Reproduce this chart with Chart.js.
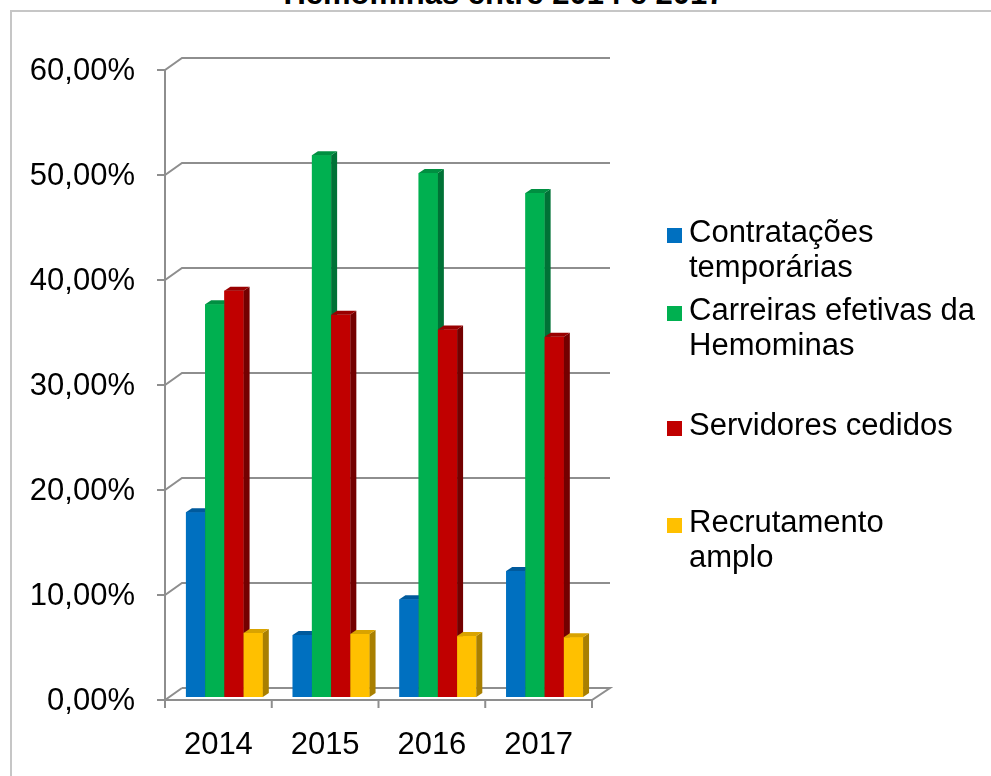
<!DOCTYPE html>
<html>
<head>
<meta charset="utf-8">
<script src="https://cdn.jsdelivr.net/npm/chart.js@4.4.1/dist/chart.umd.min.js"></script>
<style>
  html, body { margin: 0; padding: 0; background: #fff; overflow: hidden; }
  #wrap { position: relative; width: 991px; height: 776px; overflow: hidden; font-family: "Liberation Sans", Arial, sans-serif; }
  #frame { position: absolute; left: 10px; top: 10px; width: 1100px; height: 900px; border: 2px solid #c6c6c6; }
  #title { position: absolute; left: 0; top: -24px; width: 1008px; text-align: center; font-weight: bold; font-size: 31px; line-height: 35px; white-space: nowrap; color: #000; }
  canvas { position: absolute; left: 0; top: 0; }
  .leg { position: absolute; left: 689px; font-size: 31px; line-height: 35px; color: #000; white-space: nowrap; }
  .mk { position: absolute; left: 667px; width: 15px; height: 15px; }
</style>
</head>
<body>
<div id="wrap">
  <div id="frame"></div>
  <div id="title">Hemominas entre 2014 e 2017</div>
  <canvas id="chart" width="991" height="776"></canvas>
  <div id="legend"></div>
</div>
<script>
// dados (%)
var anos = ['2014', '2015', '2016', '2017'];
var contratacoes = [17.6, 5.9, 9.3, 12.0];
var carreiras = [37.4, 51.6, 49.9, 48.0];
var cedidos = [38.7, 36.4, 35.0, 34.3];
var recrutamento = [6.1, 6.0, 5.8, 5.7];
var yTicks = ['0,00%', '10,00%', '20,00%', '30,00%', '40,00%', '50,00%', '60,00%'];

var series = [
  { label: ['Contratações', 'temporárias'], data: contratacoes, color: '#0070C0', side: '#00487c', top: '#005a9c', legTop: 214 },
  { label: ['Carreiras efetivas da', 'Hemominas'], data: carreiras, color: '#00B050', side: '#007236', top: '#008f41', legTop: 292 },
  { label: ['Servidores cedidos'], data: cedidos, color: '#C00000', side: '#740000', top: '#990000', legTop: 407 },
  { label: ['Recrutamento', 'amplo'], data: recrutamento, color: '#FFC000', side: '#a97f00', top: '#d9a300', legTop: 504 }
];

// legenda em HTML (texto em duas linhas)
var legend = document.getElementById('legend');
series.forEach(function(s) {
  var mk = document.createElement('div');
  mk.className = 'mk';
  mk.style.top = (s.legTop + 14) + 'px';
  mk.style.background = s.color;
  legend.appendChild(mk);
  var t = document.createElement('div');
  t.className = 'leg';
  t.style.top = s.legTop + 'px';
  t.innerHTML = s.label.join('<br>');
  legend.appendChild(t);
});

var DX = 6, DY = -4;          // profundidade das barras
var FX = -6, FY = 3;          // plano frontal
var BX = 11, BY = -9;         // parede do fundo

var caixa3d = {
  id: 'caixa3d',
  beforeDatasetsDraw: function(chart) {
    var ctx = chart.ctx, a = chart.chartArea, y = chart.scales.y;
    ctx.save();
    ctx.strokeStyle = '#8e8e8e';
    ctx.lineWidth = 2;
    y.ticks.forEach(function(t) {
      var py = y.getPixelForValue(t.value);
      ctx.beginPath();
      ctx.moveTo(a.left + FX - 8, py + FY);
      ctx.lineTo(a.left + FX, py + FY);
      ctx.lineTo(a.left + BX, py + BY);
      if (t.value > 0) ctx.lineTo(a.right + BX + 1, py + BY);
      ctx.stroke();
    });
    var y0 = y.getPixelForValue(0), yTop = y.getPixelForValue(60);
    ctx.beginPath();
    ctx.moveTo(a.left + FX, yTop + FY);
    ctx.lineTo(a.left + FX, y0 + FY);
    ctx.lineTo(a.right + FX, y0 + FY);
    ctx.lineTo(a.right + BX + 1, y0 + BY);
    ctx.lineTo(a.left + BX, y0 + BY);
    ctx.stroke();
    var step = (a.right - a.left) / anos.length;
    for (var i = 0; i <= anos.length; i++) {
      var px = a.left + FX + i * step;
      ctx.beginPath();
      ctx.moveTo(px, y0 + FY);
      ctx.lineTo(px, y0 + FY + 8);
      ctx.stroke();
    }
    ctx.restore();
  },
  // barras redesenhadas da esquerda para a direita, com lateral e topo
  afterDatasetsDraw: function(chart) {
    var ctx = chart.ctx;
    ctx.save();
    anos.forEach(function(ano, j) {
      series.forEach(function(s, i) {
        var bar = chart.getDatasetMeta(i).data[j];
        var p = bar.getProps(['x', 'y', 'base', 'width'], true);
        var l = p.x - p.width / 2, r = p.x + p.width / 2;
        ctx.fillStyle = s.color;
        ctx.fillRect(l, p.y, r - l, p.base - p.y);
        ctx.fillStyle = s.side;
        ctx.beginPath();
        ctx.moveTo(r, p.y);
        ctx.lineTo(r + DX, p.y + DY);
        ctx.lineTo(r + DX, p.base + DY);
        ctx.lineTo(r, p.base);
        ctx.closePath();
        ctx.fill();
        ctx.fillStyle = s.top;
        ctx.beginPath();
        ctx.moveTo(l, p.y);
        ctx.lineTo(l + DX, p.y + DY);
        ctx.lineTo(r + DX, p.y + DY);
        ctx.lineTo(r, p.y);
        ctx.closePath();
        ctx.fill();
      });
    });
    ctx.restore();
  }
};

new Chart(document.getElementById('chart').getContext('2d'), {
  type: 'bar',
  data: {
    labels: anos,
    datasets: series.map(function(s) {
      return {
        label: s.label.join(' '),
        data: s.data,
        backgroundColor: s.color,
        borderWidth: 0,
        barPercentage: 1.0,
        categoryPercentage: 0.72
      };
    })
  },
  options: {
    responsive: false,
    animation: false,
    layout: { padding: { left: 0, top: 67, right: 393, bottom: 0 } },
    plugins: {
      legend: { display: false },
      tooltip: { enabled: false },
      title: { display: false }
    },
    scales: {
      y: {
        min: 0,
        max: 60,
        afterFit: function(scale) { scale.width = 171; },
        border: { display: false },
        grid: { display: false },
        ticks: {
          stepSize: 10,
          padding: 28,
          labelOffset: 4,
          color: '#000',
          font: { family: '"Liberation Sans", Arial, sans-serif', size: 31 },
          callback: function(v, i) { return yTicks[i]; }
        }
      },
      x: {
        afterFit: function(scale) { scale.height = 79; },
        border: { display: false },
        grid: { display: false },
        ticks: {
          padding: 22,
          labelOffset: -6,
          maxRotation: 0,
          color: '#000',
          font: { family: '"Liberation Sans", Arial, sans-serif', size: 31 }
        }
      }
    }
  },
  plugins: [caixa3d]
});
</script>
</body>
</html>
